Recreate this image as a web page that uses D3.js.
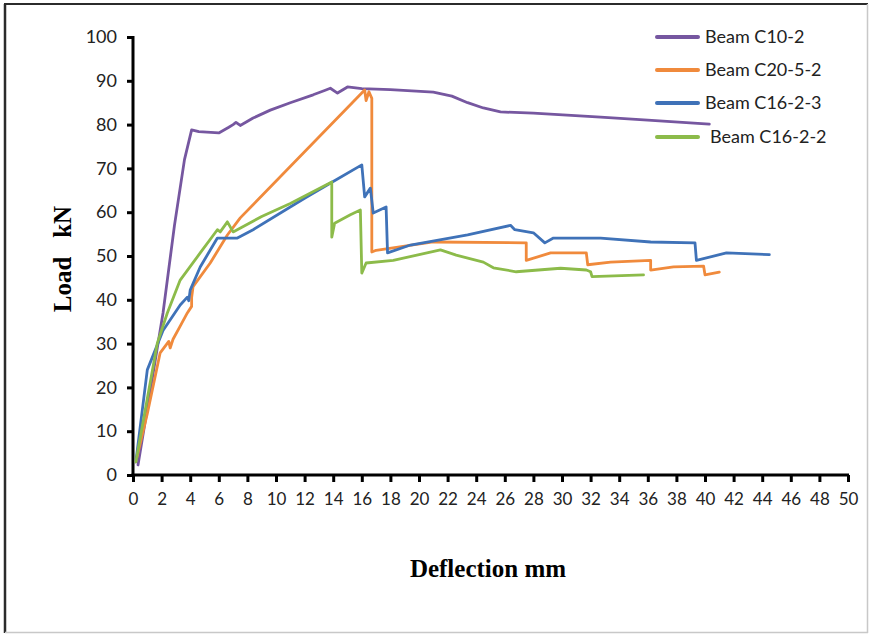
<!DOCTYPE html>
<html>
<head>
<meta charset="utf-8">
<script src="https://cdn.jsdelivr.net/npm/d3@7"></script>
<style>
	body { margin:0; background:#fff; }
	svg text { font-family: Lato, "Open Sans", sans-serif; fill:#222; }
	.title { font-family: "Liberation Serif", "DejaVu Serif", serif !important; font-weight:bold; fill:#000; }
</style>
</head>
<body>
<div id="svgContainer"></div>
<script>
// series: [deflection mm, load kN]
const beamC10_2 = [[0.35,2.3],[2.1,37],[2.9,57],[3.6,72],[4.1,78.8],[4.6,78.4],[6,78.1],[6.7,79.4],[7,80],[7.2,80.5],[7.5,79.8],[8.4,81.5],[9.6,83.3],[11,85],[12.6,86.8],[13.4,87.8],[13.8,88.3],[14.3,87.2],[15,88.6],[16,88.2],[18,88],[21,87.4],[22.3,86.5],[23.4,85],[24.5,83.8],[25.7,82.9],[28,82.6],[32.7,81.7],[36,81],[40.3,80.1]];
const beamC20_5_2 = [[0.2,3],[1,14],[1.9,27.9],[2.5,30.5],[2.6,29],[2.8,31],[3.3,34],[3.8,37],[4.1,38.5],[4.1,40.5],[4.2,43],[5.4,48.4],[6.6,54.8],[7.5,58.7],[16.2,87.9],[16.3,85.5],[16.5,87.5],[16.7,86],[16.7,50.9],[17,51.3],[21,53.2],[27.5,53],[27.5,49],[29.2,50.7],[31.7,50.7],[31.8,48],[33.4,48.6],[36.2,49],[36.2,46.8],[37.8,47.5],[39.9,47.7],[40,45.7],[41,46.3]];
const beamC16_2_3 = [[0.2,3],[1,24],[2.1,33],[3.3,38.8],[3.8,40.6],[3.9,39.8],[4,42.2],[4.7,47.5],[5.9,54.1],[7.3,54.1],[8.4,56],[12,63.2],[14,67],[16,70.8],[16.2,63.5],[16.6,65.5],[16.8,59.8],[17.7,61.2],[17.8,50.7],[19.4,52.5],[23.4,54.8],[26.4,57],[26.7,56],[28,55.3],[28.8,53],[29.4,54.1],[32.7,54.1],[36.2,53.2],[39.3,53],[39.4,49],[41.5,50.7],[44.5,50.3]];
const beamC16_2_2 = [[0.2,3],[1.7,30.1],[2.4,37],[3.3,44.5],[4.7,50.7],[5.9,56],[6.1,55.5],[6.6,57.8],[7,55.5],[9,59],[11,62],[13.9,66.9],[13.9,54.3],[14.1,57.5],[15.2,59.4],[15.9,60.5],[16,46.1],[16.3,48.4],[18.2,49],[21.5,51.4],[22.6,50.2],[24.5,48.6],[25.2,47.3],[26.8,46.4],[29.9,47.2],[31.7,46.8],[32,46.4],[32.1,45.3],[35.7,45.7]];

const seriesNames = ["Beam C10-2", "Beam C20-5-2", "Beam C16-2-3", "Beam C16-2-2"];
const seriesData = [beamC10_2, beamC20_5_2, beamC16_2_3, beamC16_2_2];
const colors = ["#7657a0", "#f08a3c", "#3f72b8", "#8cbb4a"];
const xTicks = d3.range(0, 51, 2);
const yTicks = d3.range(0, 101, 10);

const W = 869, H = 634;
const plot = {left:133, right:848, top:37, bottom:475};
const narrow = "'Liberation Sans Narrow', 'Open Sans', sans-serif";

var svg = d3.select("#svgContainer").append("svg")
	.attr("width", W).attr("height", H);

// outer frame (dark on left/top, light on right/bottom)
svg.append("line").attr("x1",5).attr("y1",4).attr("x2",5).attr("y2",633).attr("stroke","#2b2b2b").attr("stroke-width",2.5);
svg.append("line").attr("x1",4).attr("y1",4).attr("x2",868).attr("y2",4).attr("stroke","#2b2b2b").attr("stroke-width",2);
svg.append("line").attr("x1",867.5).attr("y1",4).attr("x2",867.5).attr("y2",633).attr("stroke","#c8c8c8").attr("stroke-width",1.5);
svg.append("line").attr("x1",5).attr("y1",632.5).attr("x2",868).attr("y2",632.5).attr("stroke","#c8c8c8").attr("stroke-width",1.5);

var xScale = d3.scaleLinear().domain([0, 50]).range([plot.left, plot.right]);
var yScale = d3.scaleLinear().domain([0, 100]).range([plot.bottom, plot.top]);

var xAxis = d3.axisBottom(xScale).tickValues(xTicks).tickSize(7).tickPadding(11);
var yAxis = d3.axisLeft(yScale).tickValues(yTicks).tickSize(6).tickPadding(10);

var gx = svg.append("g").attr("transform", "translate(0," + plot.bottom + ")").call(xAxis);
var gy = svg.append("g").attr("transform", "translate(" + plot.left + ",0)").call(yAxis);

[gx, gy].forEach(function(g){
	g.select(".domain").attr("stroke", "#000").attr("stroke-width", 3);
	g.selectAll(".tick line").attr("stroke", "#000").attr("stroke-width", 3);
	g.selectAll(".tick text").attr("fill", "#333");
});
gx.selectAll(".tick text").attr("font-size", 17).attr("font-family", narrow);
gy.selectAll(".tick text").attr("font-size", 18).attr("font-family", "Lato, 'Open Sans', sans-serif");
gy.select(".domain").attr("d", "M0," + (plot.top - 1) + "V" + (plot.bottom + 1.5));
gx.select(".domain").attr("d", "M" + (plot.left - 1.5) + ",0H" + (plot.right + 1));

// the lines
var lineFunction = d3.line()
	.x(function(d){ return xScale(d[0]); })
	.y(function(d){ return yScale(d[1]); })
	.curve(d3.curveLinear);

seriesData.forEach(function(data, i){
	svg.append("path")
		.datum(data)
		.attr("d", lineFunction)
		.attr("fill", "none")
		.attr("stroke", colors[i])
		.attr("stroke-width", 2.8)
		.attr("stroke-linejoin", "round")
		.attr("stroke-linecap", "round");
});

// legend
var legendY = [37, 70, 103, 137];
var legend = svg.append("g").attr("class", "legend");
seriesNames.forEach(function(name, i){
	var row = legend.append("g").attr("transform", "translate(655," + legendY[i] + ")");
	row.append("rect").attr("x", 0).attr("y", -2).attr("width", 45).attr("height", 4)
		.attr("rx", 2).attr("fill", colors[i]);
	row.append("text").attr("x", i === 3 ? 55 : 50).attr("y", 0).attr("dy", "0.35em")
		.attr("font-size", 18).attr("font-family", narrow).attr("fill", "#333").text(name);
});

// axis titles
svg.append("text").attr("class", "title")
	.attr("x", 488).attr("y", 577)
	.attr("text-anchor", "middle").attr("font-size", 25)
	.text("Deflection mm");

svg.append("text").attr("class", "title")
	.attr("transform", "translate(71,259) rotate(-90)")
	.attr("text-anchor", "middle").attr("font-size", 25)
	.attr("xml:space", "preserve")
	.text("Load   kN");
</script>
</body>
</html>
